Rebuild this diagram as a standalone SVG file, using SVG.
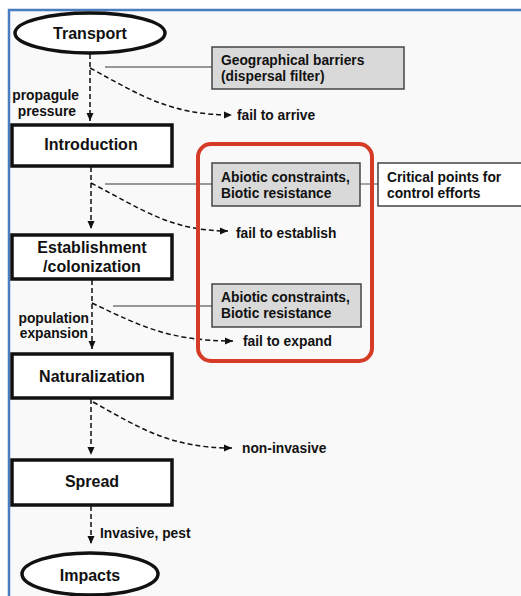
<svg xmlns="http://www.w3.org/2000/svg" width="521" height="596" viewBox="0 0 521 596">
<style>
text{font-family:"Liberation Sans",Arial,sans-serif;font-weight:bold;fill:#111}
.big{font-size:16px}
.sm{font-size:13.8px}
.stage{fill:#fff;stroke:#111;stroke-width:3.5}
.gbox{fill:#d9d9d9;stroke:#444;stroke-width:1.5}
.wbox{fill:#fff;stroke:#444;stroke-width:1.5}
.dash{fill:none;stroke:#111;stroke-width:1.5;stroke-dasharray:5 3;marker-end:url(#ah)}
.solid{fill:none;stroke:#777;stroke-width:1.3}
</style>
<defs>
<marker id="ah" viewBox="0 0 8 8" refX="8" refY="4" markerWidth="8" markerHeight="8" markerUnits="userSpaceOnUse" orient="auto">
<path d="M0,0.5 L8,4 L0,7.5 Z" fill="#111"/>
</marker>
</defs>
<rect x="0" y="0" width="521" height="596" fill="#fff"/>
<rect x="9" y="10" width="512" height="586" fill="#f9f9f9"/>
<path d="M9,596 V10 H521" fill="none" stroke="#4a7cc0" stroke-width="2.5"/>

<g id="connectors">
<path class="dash" d="M90,54 V121"/>
<path class="dash" d="M90,68 C140,95 170,115 232,115"/>
<path class="solid" d="M105,67 H212"/>
<path class="dash" d="M91,167 V229"/>
<path class="dash" d="M91,183 C140,208 170,231 228,231"/>
<path class="solid" d="M105,184 H212"/>
<path class="solid" d="M360,184 H378"/>
<path class="dash" d="M92,280 V349"/>
<path class="dash" d="M92,303 C140,326 170,341 233,341"/>
<path class="solid" d="M113,306 H212"/>
<path class="dash" d="M91,399 V455"/>
<path class="dash" d="M93,402 C140,428 170,448 232,448"/>
<path class="dash" d="M91,506 V544"/>
</g>

<g id="control-frame">
<rect x="198" y="144" width="174" height="217" rx="13" fill="none" stroke="#d63b26" stroke-width="4"/>
</g>

<g id="transport">
<ellipse cx="90" cy="33" rx="75" ry="20" class="stage" stroke-width="3"/>
<text class="big" x="90" y="39" text-anchor="middle">Transport</text>
</g>
<g id="geo-barriers">
<rect class="gbox" x="212" y="47" width="192" height="42"/>
<text class="sm" x="221" y="65">Geographical barriers</text>
<text class="sm" x="221" y="81">(dispersal filter)</text>
</g>
<g id="propagule-label">
<text class="sm" x="79" y="100" text-anchor="end">propagule</text>
<text class="sm" x="76" y="116" text-anchor="end">pressure</text>
</g>
<g id="fail-arrive"><text class="sm" x="237" y="120">fail to arrive</text></g>

<g id="introduction">
<rect class="stage" x="12" y="125" width="160" height="41"/>
<text class="big" x="91" y="150" text-anchor="middle">Introduction</text>
</g>
<g id="abiotic-1">
<rect class="gbox" x="212" y="163" width="148" height="43"/>
<text class="sm" x="221" y="182">Abiotic constraints,</text>
<text class="sm" x="221" y="198">Biotic resistance</text>
</g>
<g id="critical-points">
<rect class="wbox" x="378" y="163" width="150" height="43"/>
<text class="sm" x="387" y="182">Critical points for</text>
<text class="sm" x="387" y="198">control efforts</text>
</g>
<g id="fail-establish"><text class="sm" x="236" y="238">fail to establish</text></g>

<g id="establishment">
<rect class="stage" x="12" y="235" width="160" height="44"/>
<text class="big" x="92" y="253" text-anchor="middle">Establishment</text>
<text class="big" x="92" y="272" text-anchor="middle">/colonization</text>
</g>
<g id="abiotic-2">
<rect class="gbox" x="212" y="284" width="149" height="43"/>
<text class="sm" x="221" y="302">Abiotic constraints,</text>
<text class="sm" x="221" y="318">Biotic resistance</text>
</g>
<g id="population-label">
<text class="sm" x="89" y="323" text-anchor="end">population</text>
<text class="sm" x="88" y="338" text-anchor="end">expansion</text>
</g>
<g id="fail-expand"><text class="sm" x="243" y="346">fail to expand</text></g>

<g id="naturalization">
<rect class="stage" x="12" y="354" width="160" height="44"/>
<text class="big" x="92" y="382" text-anchor="middle">Naturalization</text>
</g>
<g id="non-invasive"><text class="sm" x="242" y="453">non-invasive</text></g>

<g id="spread">
<rect class="stage" x="12" y="460" width="160" height="45"/>
<text class="big" x="92" y="487" text-anchor="middle">Spread</text>
</g>
<g id="invasive-label"><text class="sm" x="100" y="538">Invasive, pest</text></g>

<g id="impacts">
<ellipse cx="90" cy="574" rx="68" ry="21" class="stage" stroke-width="3"/>
<text class="big" x="90" y="581" text-anchor="middle">Impacts</text>
</g>
</svg>
